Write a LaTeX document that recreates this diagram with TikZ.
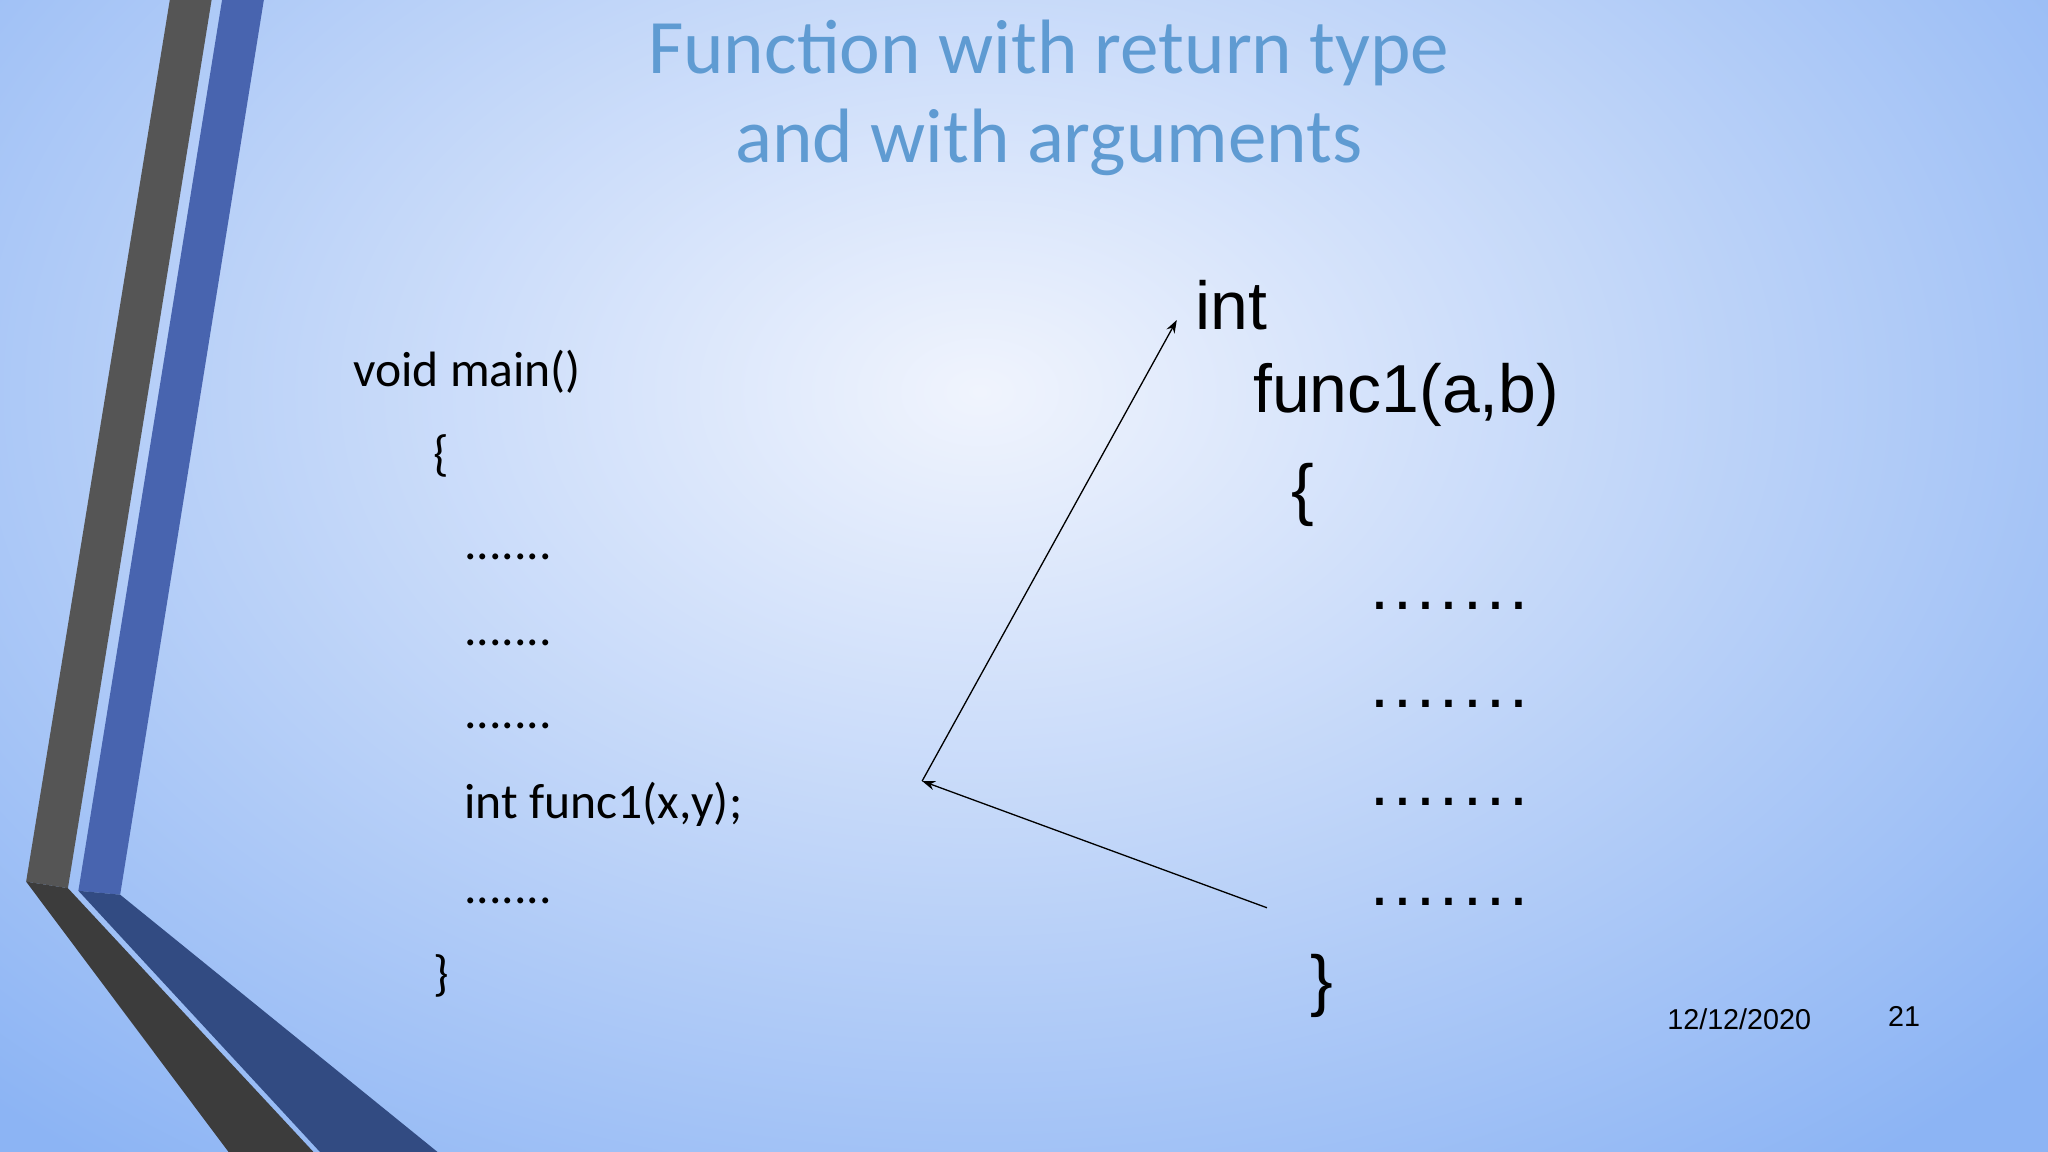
\documentclass[tikz,border=0pt]{standalone}
\usepackage{fontspec}
\setmainfont{Carlito}
\newfontfamily\arialf{Liberation Sans}
\usetikzlibrary{arrows.meta}
\definecolor{titleblue}{RGB}{95,155,210}
\definecolor{bgout}{RGB}{140,180,244}
\definecolor{bgin}{RGB}{240,244,253}
\definecolor{stripegray}{RGB}{85,85,85}
\definecolor{stripeblue}{RGB}{72,100,175}
\definecolor{darkgray}{RGB}{60,60,60}
\definecolor{darkblue}{RGB}{50,75,130}
\newcommand{\rdots}{.\hspace{3.2pt}.\hspace{3.2pt}.\hspace{3.2pt}.\hspace{3.2pt}.\hspace{3.2pt}.\hspace{3.2pt}.}
\tikzset{code/.style={anchor=base west,font=\fontsize{38}{44}\selectfont},
 rcode/.style={anchor=base west,font=\arialf\fontsize{52}{60}\selectfont},
 arr/.style={-{Stealth[length=10pt,width=7pt]},line width=1pt}}
\begin{document}
\begin{tikzpicture}[x=1pt,y=-1pt]
\useasboundingbox (0,0) rectangle (1568,882);
\begin{scope}
\clip (0,0) rectangle (1568,882);
\shade[outer color=bgout,inner color=bgin] (-350,-450) rectangle (1850,1050);
\end{scope}
% stripes
\fill[stripegray] (130,0) -- (162,0) -- (52,680) -- (20,675) -- cycle;
\fill[darkgray] (20,675) -- (52,680) -- (240,882) -- (175,882) -- cycle;
\fill[stripeblue] (170,0) -- (202,0) -- (92,685) -- (60,682) -- cycle;
\fill[darkblue] (60,682) -- (92,685) -- (335,882) -- (245,882) -- cycle;
% title
\node[text=titleblue,font=\fontsize{59}{68}\selectfont,align=center] (title) at (803,75) {Function with return type\\and with arguments};
% left code
\node[code] (l1) at (267,296) {void main()};
\node[code] (l2) at (328,360) {\{};
\node[code] (l3) at (352,428) {.......};
\node[code] (l4) at (352,494) {.......};
\node[code] (l5) at (352,558) {.......};
\node[code] (l6) at (352,627) {int func1(x,y);};
\node[code] (l7) at (352,692) {.......};
\node[code] (l8) at (328,758) {\}};
% right code
\node[rcode] (r1) at (912,252) {int};
\node[rcode] (r2) at (956,316) {func1(a,b)};
\node[rcode] (r3) at (985,392) {\{};
\node[rcode] (r4) at (1046,467) {\rdots};
\node[rcode] (r5) at (1046,542) {\rdots};
\node[rcode] (r6) at (1046,617) {\rdots};
\node[rcode] (r7) at (1046,693) {\rdots};
\node[rcode] (r8) at (1000,768) {\}};
\node[anchor=base west,font=\arialf\fontsize{22}{26}\selectfont] (date) at (1273,788) {12/12/2020};
\node[anchor=base west,font=\arialf\fontsize{22}{26}\selectfont] (num) at (1442,786) {21};
% arrows
\coordinate (s) at (970,695);
\coordinate (m) at (706,598);
\coordinate (t) at (901,245);
\draw[arr] (s) -- (m);
\draw[arr] (m) -- (t);
\end{tikzpicture}
\end{document}
